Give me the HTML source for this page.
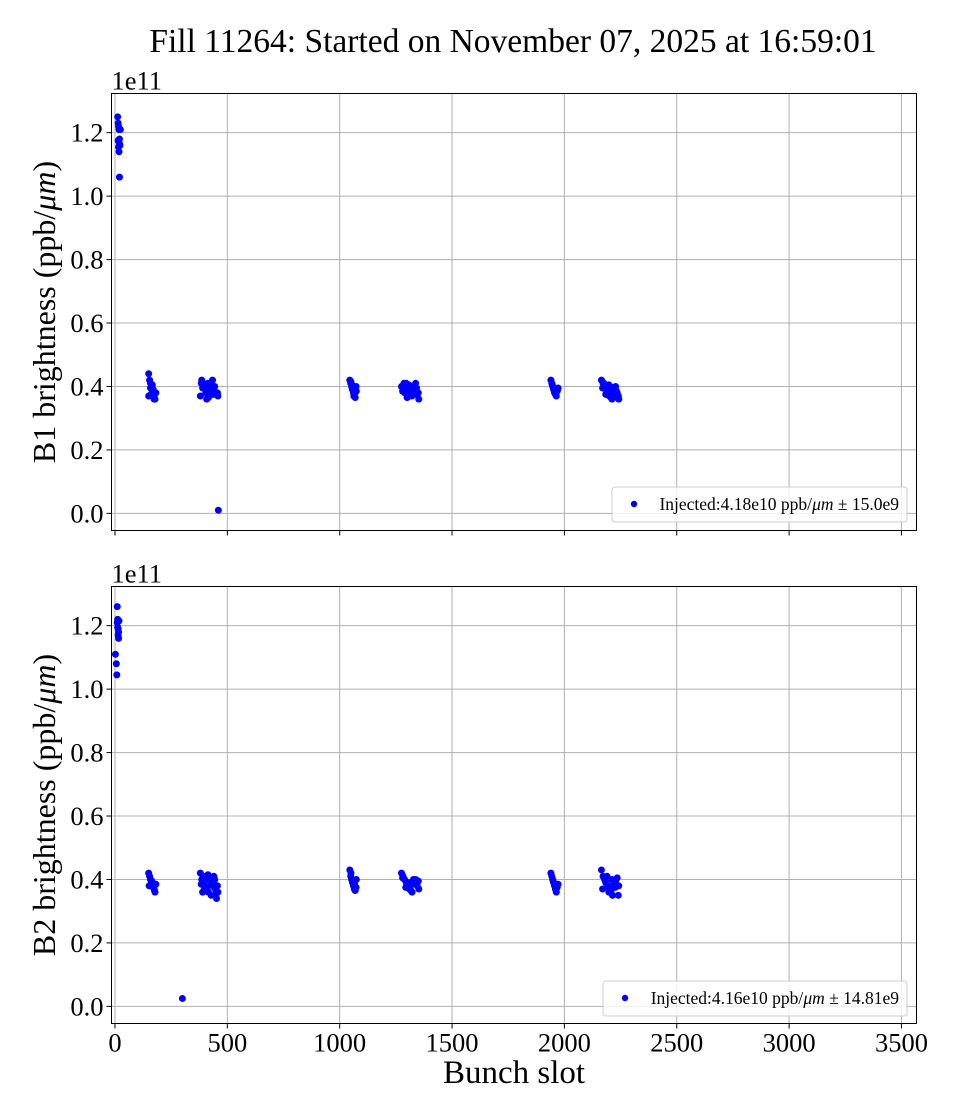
<!DOCTYPE html>
<html><head><meta charset="utf-8">
<style>
body{margin:0;background:#fff;}
svg{display:block;font-family:"Liberation Serif","DejaVu Serif",serif;}
</style></head>
<body>
<svg id="chart" width="960" height="1120" viewBox="0 0 960 1120" xmlns="http://www.w3.org/2000/svg">
<text x="513" y="52" font-size="33.5" text-anchor="middle">Fill 11264: Started on November 07, 2025 at 16:59:01</text>
</svg>
<script>
// ---- data (brightness in units of 1e11 ppb/um) ----
const xTicks = [0, 500, 1000, 1500, 2000, 2500, 3000, 3500];
const yTicks = [0.0, 0.2, 0.4, 0.6, 0.8, 1.0, 1.2];
const yTickLabels = ["0.0","0.2","0.4","0.6","0.8","1.0","1.2"];

const b1Slots = [12,14,16,18,20,22,14,16,18,20,24,20,
  150,154,158,162,166,170,174,178,182,150,158,166,174,160,170,
  380,386,392,398,404,410,416,422,428,434,440,446,452,458,384,396,408,420,432,444,456,390,414,438,402,426,460,
  1045,1049,1053,1057,1061,1065,1069,1073,1050,1058,1066,1074,1055,1063,
  1275,1282,1289,1296,1303,1310,1317,1324,1331,1338,1345,1352,1280,1294,1308,1322,1336,1350,1286,1300,1314,1328,1342,
  1940,1944,1948,1952,1956,1960,1964,1968,1972,1946,1958,1970,
  2165,2172,2179,2186,2193,2200,2207,2214,2221,2228,2235,2242,2170,2184,2198,2212,2226,2240,2176,2190,2204,2218,2232];
const b1Vals = [1.25,1.23,1.22,1.21,1.18,1.16,1.175,1.155,1.14,1.165,1.21,1.06,
  0.44,0.42,0.41,0.40,0.39,0.38,0.37,0.36,0.38,0.37,0.395,0.405,0.36,0.375,0.39,
  0.37,0.42,0.41,0.40,0.38,0.39,0.365,0.40,0.41,0.42,0.39,0.38,0.375,0.37,0.41,0.395,0.36,0.37,0.385,0.40,0.38,0.395,0.41,0.375,0.40,0.385,0.01,
  0.42,0.41,0.40,0.39,0.38,0.37,0.365,0.40,0.415,0.39,0.375,0.385,0.405,0.37,
  0.40,0.39,0.38,0.41,0.40,0.37,0.385,0.39,0.38,0.41,0.375,0.36,0.385,0.395,0.405,0.37,0.39,0.38,0.41,0.365,0.40,0.375,0.395,
  0.42,0.41,0.40,0.39,0.38,0.375,0.37,0.385,0.395,0.405,0.38,0.39,
  0.42,0.41,0.40,0.39,0.38,0.37,0.365,0.385,0.395,0.40,0.38,0.36,0.395,0.375,0.405,0.36,0.39,0.37,0.41,0.38,0.40,0.365,0.385];

const b2Slots = [2,6,8,10,12,14,16,10,12,14,16,18,
  150,154,158,162,166,170,174,178,182,152,164,176,
  300,
  380,386,392,398,404,410,416,422,428,434,440,446,452,458,384,396,408,420,432,444,456,390,414,438,402,426,450,
  1045,1049,1053,1057,1061,1065,1069,1073,1050,1058,1066,1074,
  1275,1282,1289,1296,1303,1310,1317,1324,1331,1338,1345,1352,1280,1294,1308,1322,1336,1350,1300,1328,
  1940,1944,1948,1952,1956,1960,1964,1968,1972,1950,1962,
  2165,2172,2179,2186,2193,2200,2207,2214,2221,2228,2235,2242,2170,2184,2198,2212,2226,2240,2190,2218];
const b2Vals = [1.11,1.08,1.045,1.26,1.22,1.17,1.16,1.21,1.195,1.19,1.18,1.215,
  0.42,0.41,0.40,0.39,0.38,0.375,0.37,0.36,0.385,0.38,0.395,0.365,
  0.025,
  0.42,0.40,0.39,0.37,0.41,0.38,0.36,0.40,0.35,0.39,0.41,0.37,0.34,0.36,0.385,0.395,0.375,0.405,0.38,0.40,0.38,0.36,0.415,0.39,0.37,0.40,0.355,
  0.43,0.41,0.40,0.39,0.38,0.37,0.365,0.375,0.42,0.395,0.385,0.40,
  0.42,0.41,0.40,0.39,0.38,0.37,0.365,0.385,0.395,0.40,0.38,0.37,0.405,0.375,0.39,0.36,0.385,0.395,0.38,0.40,
  0.42,0.41,0.40,0.39,0.38,0.37,0.36,0.375,0.385,0.395,0.38,
  0.43,0.41,0.40,0.39,0.38,0.37,0.36,0.35,0.385,0.395,0.405,0.38,0.37,0.39,0.36,0.40,0.375,0.35,0.41,0.385];

const legend1 = ["Injected:4.18e10 ppb/", "\u00b1  15.0e9"];
const legend2 = ["Injected:4.16e10 ppb/", "\u00b1  14.81e9"];

// ---- layout ----
const NS = "http://www.w3.org/2000/svg";
const svg = document.getElementById('chart');
const L = 111.5, R = 916.5;
const xMin = -15.5, xMax = 3567;
function xs(v){ return L + (v - xMin) / (xMax - xMin) * (R - L); }
function mk(tag, attrs, parent){
  const e = document.createElementNS(NS, tag);
  for (const k in attrs) e.setAttribute(k, attrs[k]);
  (parent || svg).appendChild(e);
  return e;
}

function panel(top, bottom, slots, vals, ylab, legTxt, legBox, showX, pname){
  const yMin = -0.054, yMax = 1.3235;
  const ys = v => bottom - (v - yMin) / (yMax - yMin) * (bottom - top);
  const g = mk('g', {});
  
  
  xTicks.forEach(t => {
    const l = mk('line', {x1: xs(t), x2: xs(t), y1: top, y2: bottom, stroke: '#b0b0b0', 'stroke-width': 1}, g);
    
    
    const tk = mk('line', {x1: xs(t), x2: xs(t), y1: bottom, y2: bottom + 5, stroke: '#000', 'stroke-width': 1}, g);
    
    
    if (showX) {
      const tx = mk('text', {x: xs(t), y: bottom + 28, 'font-size': 26.5, 'text-anchor': 'middle'}, g);
      
      
      tx.textContent = t;
    }
  });
  yTicks.forEach((t, i) => {
    const l = mk('line', {x1: L, x2: R, y1: ys(t), y2: ys(t), stroke: '#b0b0b0', 'stroke-width': 1}, g);
    
    
    const tk = mk('line', {x1: L - 5, x2: L, y1: ys(t), y2: ys(t), stroke: '#000', 'stroke-width': 1}, g);
    
    
    const tx = mk('text', {x: L - 8, y: ys(t) + 9, 'font-size': 26.5, 'text-anchor': 'end'}, g);
    
    
    tx.textContent = yTickLabels[i];
  });
  slots.forEach((s, i) => {
    const c = mk('circle', {cx: xs(s), cy: ys(vals[i]), r: 3.5, fill: '#0000ff'}, g);
    
    
  });
  const fr = mk('rect', {x: L, y: top, width: R - L, height: bottom - top, fill: 'none', stroke: '#000', 'stroke-width': 1}, g);
  
  
  const off = mk('text', {x: L, y: top - 4, 'font-size': 26.5}, g);
  
  
  off.textContent = '1e11';
  const cy = (top + bottom) / 2;
  const yl = mk('text', {x: 55, y: cy, 'font-size': 32, 'text-anchor': 'middle', transform: 'rotate(-90 55 ' + cy + ')'}, g);
  
  
  yl.appendChild(document.createTextNode(ylab + ' (ppb/'));
  const it = mk('tspan', {'font-style': 'italic'}, yl);
  it.textContent = 'μm';
  yl.appendChild(document.createTextNode(')'));
  const lg = mk('g', {}, g);
  
  
  mk('rect', {x: legBox[0], y: legBox[1], width: legBox[2], height: legBox[3], rx: 3, fill: '#fff', 'fill-opacity': 0.8, stroke: '#cccccc'}, lg);
  const mc = mk('circle', {cx: legBox[0] + 22, cy: legBox[1] + 17, r: 3.2, fill: '#0000ff'}, lg);
  
  
  const lt = mk('text', {x: legBox[0] + legBox[2] - 8, y: legBox[1] + 23, 'font-size': 17.5, 'text-anchor': 'end', 'xml:space': 'preserve'}, lg);
  
  
  lt.appendChild(document.createTextNode(legTxt[0]));
  const li = mk('tspan', {'font-style': 'italic'}, lt);
  li.textContent = 'μm';
  lt.appendChild(document.createTextNode('  ' + legTxt[1]));
}

panel(93.5, 530.5, b1Slots, b1Vals, 'B1 brightness', legend1, [612, 487, 295, 35], false, 'b1-panel');
panel(586.5, 1023.5, b2Slots, b2Vals, 'B2 brightness', legend2, [603, 981, 304, 35], true, 'b2-panel');

const xl = mk('text', {x: 514, y: 1083, 'font-size': 33, 'text-anchor': 'middle'});


xl.textContent = 'Bunch slot';
</script>
</body></html>
